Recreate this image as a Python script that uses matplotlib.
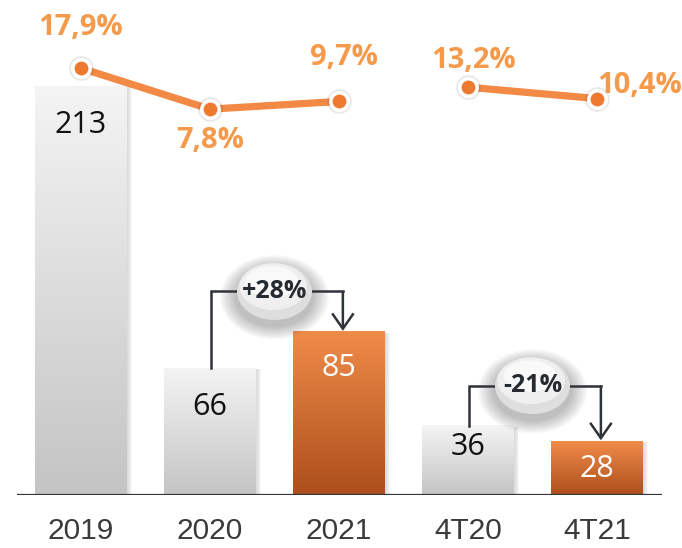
import numpy as np
import matplotlib
matplotlib.use("Agg")
import matplotlib.pyplot as plt
from matplotlib.patches import Ellipse, Rectangle, FancyArrowPatch
import matplotlib.colors as mcolors

# ---------------- data ----------------
categories = ["2019", "2020", "2021", "4T20", "4T21"]
bar_values = [213, 66, 85, 36, 28]
bar_is_highlight = [False, False, True, False, True]
margin_values = [17.9, 7.8, 9.7, 13.2, 10.4]
line_groups = [[0, 1, 2], [3, 4]]
change_pairs = [(1, 2), (3, 4)]
change_labels = ["+28%", "-21%"]

# ---------------- style ----------------
DPI = 100
fig = plt.figure(figsize=(6.82, 5.48), dpi=DPI)
fig.patch.set_facecolor("white")

ax = fig.add_axes([16.5 / 682, 53 / 548, 645 / 682, 495 / 548])
ax.set_xlim(-0.5, 4.5)
ax.set_ylim(0, 495 / 1.92)
ax.set_autoscale_on(False)
for s in ax.spines.values():
    s.set_visible(False)
ax.set_yticks([])
ax.patch.set_alpha(0)

BAR_W = 0.713
gray_top, gray_bot = "#f4f4f4", "#c4c4c4"
org_top, org_bot = "#f08c4a", "#ad4f1c"


def vgrad(c_top, c_bot, n=256):
    t = np.linspace(0, 1, n)[:, None]
    a = np.array(mcolors.to_rgb(c_top))
    b = np.array(mcolors.to_rgb(c_bot))
    return (a * (1 - t) + b * t)[:, None, :].reshape(n, 1, 3)


for i, v in enumerate(bar_values):
    x0 = i - BAR_W / 2
    # soft shadow on the right
    for k in range(6):
        ax.add_patch(Rectangle((x0 + 0.01 + k * 0.006, 0), BAR_W, v - 0.5,
                               facecolor="#000000", alpha=0.025,
                               edgecolor="none", zorder=1))
    if bar_is_highlight[i]:
        g = vgrad(org_top, org_bot)
    else:
        g = vgrad(gray_top, gray_bot)
    ax.imshow(g, extent=[x0, x0 + BAR_W, 0, v], aspect="auto",
              interpolation="bicubic", zorder=2)

# value labels in bars
label_offsets_px = [-39, -39, -36, -21, -28]
for i, v in enumerate(bar_values):
    col = "white" if bar_is_highlight[i] else "#111111"
    ax.annotate(str(v), (i, v), xytext=(0, label_offsets_px[i] * 0.72),
                textcoords="offset points", ha="center", va="center",
                fontsize=22, color=col, family=["Open Sans", "DejaVu Sans"],
                zorder=5)

# baseline
ax.axhline(0, color="#30363b", lw=1.6, zorder=6)

# categories
ax.set_xticks(range(len(categories)))
ax.set_xticklabels(categories, fontsize=21.5, color="#3a3a3a",
                   family=["Liberation Sans", "DejaVu Sans"])
ax.tick_params(axis="x", length=0, pad=16)

# change bubbles with connectors
for (a, b), lab in zip(change_pairs, change_labels):
    ya, yb = bar_values[a], bar_values[b]
    yc = max(ya, yb) + 21
    xc = (a + b) / 2
    ax.plot([a + 0.01, a + 0.01, b + 0.03], [ya, yc, yc], color="#2d3338",
            lw=1.8, zorder=3, solid_joinstyle="miter",
            solid_capstyle="projecting")
    arr = FancyArrowPatch((b + 0.03, yc), (b + 0.03, yb + 0.5),
                          arrowstyle="->,head_length=0.5,head_width=0.35",
                          mutation_scale=22, color="#2d3338", lw=1.8,
                          shrinkA=0, shrinkB=0, zorder=3,
                          joinstyle="miter", capstyle="butt")
    ax.add_patch(arr)
    ew, eh = 75 / 129, 57 / 1.92
    # blurred shadow
    for k in range(10, 0, -1):
        ax.add_patch(Ellipse((xc, yc - 3), ew + k * 0.026, eh + k * 1.4,
                             facecolor="#4a4a4a", alpha=0.04,
                             edgecolor="none", zorder=4))
    ax.add_patch(Ellipse((xc, yc), ew, eh, facecolor="#dedede",
                         edgecolor="none", zorder=4))
    ax.add_patch(Ellipse((xc - 0.01, yc + 2.5), ew * 0.9, eh * 0.82,
                         facecolor="#efefef", edgecolor="none", zorder=4))
    ax.add_patch(Ellipse((xc - 0.02, yc + 5), ew * 0.7, eh * 0.55,
                         facecolor="#f9f9f9", edgecolor="none", zorder=4))
    ax.text(xc, yc, lab, ha="center", va="center", fontsize=18,
            fontweight="bold", color="#252b31",
            family=["Open Sans", "DejaVu Sans"], zorder=5)

# margin line on a second axis
ax2 = ax.twinx()
ax2.set_ylim(-87.3, 34.7)
ax2.set_xlim(-0.5, 4.5)
ax2.axis("off")
line_col = "#f28a45"
for grp in line_groups:
    xs = grp
    ys = [margin_values[i] for i in grp]
    ax2.plot(xs, ys, color=line_col, lw=5.2, solid_capstyle="round", zorder=3)
    # marker shadow
    ax2.plot(xs, ys, "o", ms=17, color="#000000", alpha=0.06, zorder=3,
             linestyle="none")
    ax2.plot(xs, ys, "o", ms=12.5, markerfacecolor="#ee7a30",
             markeredgecolor="white", markeredgewidth=2.5,
             linestyle="none", zorder=4)

pct_offsets_px = [(0, 41), (0, -31), (5, 44), (6, 27), (43, 13)]
for i, v in enumerate(margin_values):
    dx, dy = pct_offsets_px[i]
    ax2.annotate(f"{v:.1f}".replace(".", ",") + "%", (i, v),
                 xytext=(dx * 0.72, dy * 0.72), textcoords="offset points",
                 ha="center", va="center", fontsize=21, fontweight="bold",
                 color="#f5994a", family=["Open Sans", "DejaVu Sans"],
                 zorder=5)

fig.savefig("out.png", dpi=DPI, facecolor="white")
